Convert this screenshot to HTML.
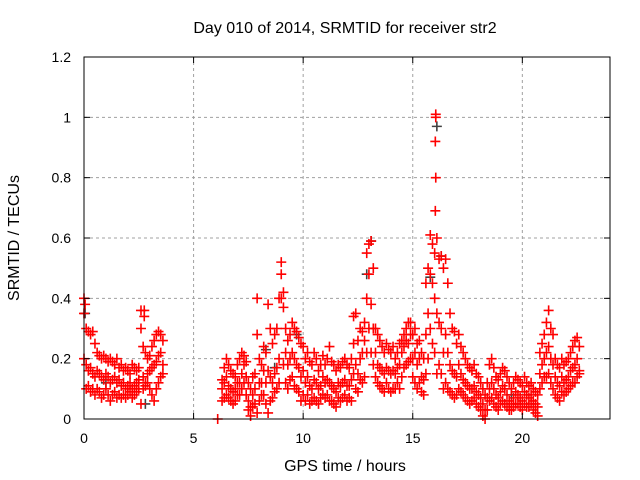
<!DOCTYPE html>
<html><head><meta charset="utf-8"><style>
body{margin:0;background:#fff}
svg{display:block;font-family:"Liberation Sans",sans-serif}
</style></head><body>
<svg id="chart" width="640" height="480" viewBox="0 0 640 480" xmlns="http://www.w3.org/2000/svg">
<text x="345" y="33" font-size="16" text-anchor="middle">Day 010 of 2014, SRMTID for receiver str2</text>
<g id="grid"></g>
<g id="marks"></g>
<rect x="84" y="57" width="526" height="362" fill="none" stroke="#000" stroke-width="1"/>
<g id="ticks"></g>
<text x="345" y="471" font-size="16" text-anchor="middle">GPS time / hours</text>
<text x="19" y="238" font-size="16" text-anchor="middle" transform="rotate(-90 19 238)">SRMTID / TECUs</text>
</svg>
<script>
const xTicks=[0,5,10,15,20];
const yTicks=[0,0.2,0.4,0.6,0.8,1,1.2];
const yTickLabels=["0","0.2","0.4","0.6","0.8","1","1.2"];
const segStarts=[0,6.3];
const segCounts=[37,164];
const highVals=[0.40,0.30,0.29,0.28,0.29,0.25,0.22,0.21,0.20,0.21,0.20,0.19,0.20,0.19,0.18,0.20,0.17,0.18,0.16,0.17,0.16,0.15,0.18,0.17,0.16,0.17,0.36,0.24,0.22,0.20,0.21,0.24,0.26,0.28,0.29,0.28,0.26,
0.13,0.17,0.20,0.18,0.16,0.15,0.14,0.18,
0.20,0.22,0.21,0.19,0.12,0.10,0.14,0.15,0.40,0.20,
0.18,0.24,0.22,0.38,0.30,0.25,0.28,0.30,0.40,0.52,
0.42,0.30,0.26,0.28,0.32,0.30,0.29,0.27,0.25,0.24,
0.20,0.22,0.19,0.18,0.22,0.20,0.16,0.18,0.21,0.18,
0.20,0.24,0.19,0.18,0.16,0.18,0.17,0.19,0.20,0.18,
0.17,0.20,0.34,0.35,0.26,0.30,0.29,0.32,0.55,0.58,
0.59,0.50,0.30,0.28,0.26,0.24,0.22,0.25,0.23,0.22,
0.24,0.20,0.22,0.25,0.26,0.28,0.30,0.32,0.32,0.28,
0.30,0.25,0.26,0.22,0.20,0.45,0.50,0.61,0.58,0.55,
0.60,0.53,0.54,0.50,0.53,0.45,0.35,0.30,0.29,0.25,
0.28,0.24,0.22,0.20,0.18,0.17,0.16,0.18,0.15,0.14,
0.12,0.10,0.08,0.12,0.18,0.20,0.17,0.14,0.13,0.15,
0.17,0.16,0.14,0.12,0.10,0.12,0.14,0.13,0.12,0.11,
0.14,0.12,0.11,0.12,0.10,0.09,0.08,0.22,0.25,0.28,
0.32,0.36,0.30,0.28,0.20,0.18,0.17,0.20,0.18,0.19,
0.20,0.22,0.24,0.26,0.27,0.24];
const midVals=[0.35,0.18,0.16,0.17,0.15,0.14,0.16,0.15,0.14,0.13,0.15,0.14,0.12,0.13,0.14,0.12,0.13,0.11,0.12,0.10,0.11,0.12,0.10,0.11,0.12,0.13,0.30,0.14,0.12,0.15,0.16,0.17,0.18,0.19,0.21,0.22,0.18,
0.10,0.12,0.14,0.11,0.10,0.09,0.10,0.12,
0.12,0.15,0.18,0.14,0.06,0.04,0.08,0.10,0.28,0.12,
0.12,0.16,0.12,0.16,0.14,0.12,0.15,0.17,0.20,0.48,
0.37,0.22,0.18,0.20,0.22,0.20,0.18,0.17,0.14,0.16,
0.12,0.14,0.11,0.10,0.13,0.12,0.10,0.11,0.14,0.12,
0.13,0.12,0.11,0.10,0.09,0.12,0.11,0.12,0.13,0.11,
0.11,0.13,0.25,0.18,0.15,0.20,0.22,0.26,0.40,0.48,
0.38,0.30,0.22,0.18,0.17,0.16,0.15,0.17,0.16,0.15,
0.16,0.15,0.17,0.18,0.22,0.24,0.26,0.25,0.28,0.20,
0.22,0.18,0.20,0.14,0.13,0.28,0.35,0.48,0.45,0.40,
0.35,0.32,0.30,0.22,0.28,0.22,0.18,0.16,0.15,0.14,
0.18,0.15,0.13,0.12,0.11,0.10,0.10,0.11,0.09,0.08,
0.07,0.05,0.03,0.07,0.10,0.12,0.10,0.08,0.07,0.09,
0.11,0.10,0.08,0.06,0.05,0.07,0.09,0.08,0.07,0.06,
0.09,0.08,0.07,0.08,0.06,0.05,0.04,0.15,0.18,0.20,
0.22,0.24,0.20,0.18,0.14,0.12,0.11,0.14,0.12,0.13,
0.14,0.16,0.17,0.18,0.20,0.16];
const lowVals=[0.20,0.10,0.11,0.09,0.10,0.08,0.10,0.09,0.07,0.08,0.10,0.08,0.06,0.08,0.09,0.07,0.08,0.07,0.08,0.07,0.08,0.09,0.07,0.08,0.09,0.10,0.05,0.10,0.11,0.12,0.10,0.08,0.06,0.10,0.12,0.14,0.15,
0.06,0.07,0.08,0.07,0.06,0.05,0.06,0.08,
0.08,0.10,0.12,0.08,0.03,0.01,0.04,0.05,0.02,0.06,
0.08,0.08,0.05,0.02,0.06,0.07,0.09,0.10,0.12,0.40,
0.18,0.12,0.10,0.13,0.14,0.11,0.10,0.09,0.06,0.08,
0.06,0.08,0.05,0.06,0.07,0.06,0.05,0.07,0.08,0.07,
0.08,0.06,0.06,0.05,0.04,0.07,0.06,0.07,0.08,0.06,
0.07,0.06,0.15,0.10,0.09,0.13,0.12,0.14,0.22,0.30,
0.22,0.18,0.14,0.12,0.11,0.10,0.09,0.12,0.10,0.09,
0.10,0.10,0.12,0.10,0.14,0.17,0.18,0.19,0.20,0.14,
0.12,0.10,0.12,0.09,0.08,0.15,0.20,0.30,0.25,0.22,
0.15,0.18,0.15,0.10,0.12,0.10,0.09,0.08,0.07,0.08,
0.10,0.09,0.08,0.07,0.06,0.05,0.06,0.07,0.05,0.04,
0.03,0.01,0.00,0.03,0.06,0.07,0.05,0.04,0.03,0.05,
0.06,0.05,0.04,0.03,0.03,0.04,0.05,0.05,0.04,0.03,
0.05,0.04,0.04,0.05,0.03,0.02,0.01,0.10,0.12,0.14,
0.14,0.15,0.12,0.10,0.08,0.07,0.06,0.09,0.08,0.09,
0.10,0.11,0.12,0.12,0.14,0.15];
const extraRedT=[6.1,16.05,16.05,16.03,16.05,16.03,0.05,2.75,2.75];
const extraRedV=[0.0,1.01,1.0,0.92,0.80,0.69,0.38,0.34,0.36];
const blackT=[16.1,16.3,13.1,12.9,2.8,8.7,8.3,15.8,9.7,0.05,1.0,19.5];
const blackV=[0.97,0.54,0.59,0.48,0.05,0.17,0.23,0.47,0.28,0.35,0.12,0.08];

const X0=84,X1=610,Y0=419,Y1=57;
const xs=v=>X0+(v/24)*(X1-X0);
const ys=v=>Y0-(v/1.2)*(Y0-Y1);
const NS="http://www.w3.org/2000/svg";
const grid=document.getElementById('grid'),marks=document.getElementById('marks'),ticks=document.getElementById('ticks');
function mk(tag,attrs,parent){const e=document.createElementNS(NS,tag);for(const k in attrs)e.setAttribute(k,attrs[k]);parent.appendChild(e);return e;}

xTicks.forEach(t=>{
  const x=xs(t);
  if(t>0){const g=mk('line',{x1:x,x2:x,y1:Y0,y2:Y1,stroke:'#a0a0a0','stroke-dasharray':'3,3'},grid);
  
  }
  const a=mk('line',{x1:x,x2:x,y1:Y0,y2:Y0-6,stroke:'#000'},ticks);
  
  
  const b=mk('line',{x1:x,x2:x,y1:Y1,y2:Y1+6,stroke:'#000'},ticks);
  
  
  const l=mk('text',{x:x,y:443,'font-size':14,'text-anchor':'middle'},ticks);l.textContent=t;
  
  
});
yTicks.forEach((t,i)=>{
  const y=ys(t);
  if(t>0&&t<1.2){const g=mk('line',{x1:X0,x2:X1,y1:y,y2:y,stroke:'#a0a0a0','stroke-dasharray':'3,3'},grid);
  
  }
  const a=mk('line',{x1:X0,x2:X0+6,y1:y,y2:y,stroke:'#000'},ticks);
  
  
  const b=mk('line',{x1:X1,x2:X1-6,y1:y,y2:y,stroke:'#000'},ticks);
  
  
  const l=mk('text',{x:71,y:y+5,'font-size':14,'text-anchor':'end'},ticks);l.textContent=yTickLabels[i];
  
  
});
function cross(t,v,col,name){
  const x=xs(t),y=ys(v);
  const p=mk('path',{d:`M${x-5},${y}H${x+5}M${x},${y-5}V${y+5}`,stroke:col,'stroke-width':1.6,fill:'none'},marks);
  
  
}
const times=[];
segStarts.forEach((s,i)=>{for(let k=0;k<segCounts[i];k++)times.push(Math.round((s+k*0.1)*100)/100);});
blackT.forEach((t,i)=>cross(t,blackV[i],'#404040','black-point'));
[lowVals,midVals,highVals].forEach(arr=>arr.forEach((v,i)=>{if(i<times.length)cross(times[i],v,'#ff0000','red-point');}));
extraRedT.forEach((t,i)=>cross(t,extraRedV[i],'#ff0000','red-point'));
</script>
</body></html>
